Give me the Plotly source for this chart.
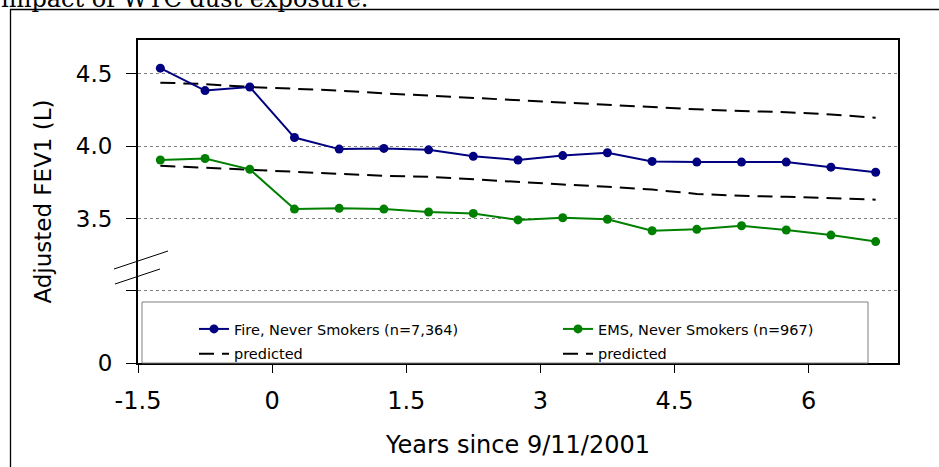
import plotly.graph_objects as go

# ---- data ----
years = [-1.25, -0.75, -0.25, 0.25, 0.75, 1.25, 1.75, 2.25, 2.75,
         3.25, 3.75, 4.25, 4.75, 5.25, 5.75, 6.25, 6.75]
fire_never = [4.54, 4.385, 4.41, 4.06, 3.98, 3.985, 3.975, 3.93, 3.905,
              3.935, 3.955, 3.895, 3.89, 3.89, 3.89, 3.855, 3.82]
fire_pred = [4.44, 4.43, 4.41, 4.40, 4.385, 4.366, 4.35, 4.33, 4.315,
             4.30, 4.285, 4.27, 4.255, 4.244, 4.235, 4.22, 4.197]
ems_never = [3.905, 3.915, 3.84, 3.565, 3.57, 3.565, 3.545, 3.535, 3.49,
             3.505, 3.495, 3.415, 3.425, 3.45, 3.42, 3.385, 3.34]
ems_pred = [3.865, 3.85, 3.835, 3.82, 3.805, 3.795, 3.789, 3.77, 3.75,
            3.735, 3.72, 3.70, 3.67, 3.657, 3.65, 3.64, 3.63]

x_tickvals = [-1.5, 0, 1.5, 3, 4.5, 6]
x_ticktext = ["-1.5", "0", "1.5", "3", "4.5", "6"]
y_tickvals = [2.5, 3.0, 3.5, 4.0, 4.5]
y_ticktext = ["0", "", "3.5", "4.0", "4.5"]

fire_name = "Fire, Never Smokers (n=7,364)"
ems_name = "EMS, Never Smokers (n=967)"
pred_name = "predicted"
x_title = "Years since 9/11/2001"
y_title = "Adjusted FEV1 (L)"
top_text = "impact of WTC dust exposure."

# ---- geometry helpers (pixel -> paper) ----
W, H = 939, 467
ML, MR, MT, MB = 138, 41, 40, 104
PW, PH = W - ML - MR, H - MT - MB


def px(x):
    return (x - ML) / PW


def py(y):
    return (H - MB - y) / PH


SANS = "DejaVu Sans"
BLUE = "#000080"
GREEN = "#008000"
DASH = "15px,8px"

fig = go.Figure()
fig.add_trace(go.Scatter(x=years, y=fire_pred, mode="lines", name=pred_name,
                         line=dict(color="black", width=2, dash=DASH),
                         legend="legend", legendrank=2, legendgroup="fp"))
fig.add_trace(go.Scatter(x=years, y=ems_pred, mode="lines", name=pred_name,
                         line=dict(color="black", width=2, dash=DASH),
                         legend="legend2", legendrank=2, legendgroup="ep"))
fig.add_trace(go.Scatter(x=years, y=fire_never, mode="lines+markers", name=fire_name,
                         line=dict(color=BLUE, width=2),
                         marker=dict(color=BLUE, size=9),
                         legend="legend", legendrank=1, legendgroup="f"))
fig.add_trace(go.Scatter(x=years, y=ems_never, mode="lines+markers", name=ems_name,
                         line=dict(color=GREEN, width=2),
                         marker=dict(color=GREEN, size=9),
                         legend="legend2", legendrank=1, legendgroup="e"))

shapes = [
    # legend frame
    dict(type="rect", xref="paper", yref="paper", x0=px(142), x1=px(868),
         y0=py(363), y1=py(302), line=dict(color="#808080", width=1),
         fillcolor="white", layer="above"),
    # axis break marks
    dict(type="line", xref="paper", yref="paper", x0=px(114), y0=py(269),
         x1=px(168), y1=py(251), line=dict(color="black", width=1), layer="above"),
    dict(type="line", xref="paper", yref="paper", x0=px(115), y0=py(284),
         x1=px(160), y1=py(269), line=dict(color="black", width=1), layer="above"),
    # page frame lines
    dict(type="line", xref="paper", yref="paper", x0=px(10.5), y0=py(9.5),
         x1=px(10.5), y1=py(470), line=dict(color="black", width=1.3), layer="above"),
    dict(type="line", xref="paper", yref="paper", x0=px(10), y0=py(9.5),
         x1=px(945), y1=py(9.5), line=dict(color="black", width=1.3), layer="above"),
]

legend_common = dict(xanchor="left", yanchor="top", bgcolor="rgba(0,0,0,0)",
                     borderwidth=0, font=dict(family=SANS, size=14.5, color="black"),
                     traceorder="grouped", tracegroupgap=3)

fig.update_layout(
    width=W, height=H,
    margin=dict(l=ML, r=MR, t=MT, b=MB, autoexpand=False),
    paper_bgcolor="white", plot_bgcolor="white",
    font=dict(family=SANS, color="black"),
    shapes=shapes,
    annotations=[dict(text=top_text, xref="paper", yref="paper",
                      x=px(-1), y=py(15), xanchor="left", yanchor="bottom",
                      showarrow=False,
                      font=dict(family="DejaVu Serif", size=24, color="black"))],
    legend=dict(x=px(194), y=py(313), **legend_common),
    legend2=dict(x=px(558), y=py(313), **legend_common),
    xaxis=dict(range=[-1.5, 7.0], tickvals=x_tickvals, ticktext=x_ticktext,
               showgrid=False, zeroline=False, showline=True, mirror=True,
               linecolor="black", linewidth=2, ticks="outside", ticklen=8,
               tickcolor="black", tickwidth=1, ticklabelstandoff=7,
               tickfont=dict(family=SANS, size=24, color="black"),
               title=dict(text=x_title, font=dict(family=SANS, size=24, color="black"),
                          standoff=22),
               automargin=False),
    yaxis=dict(range=[2.5, 4.735], tickvals=y_tickvals, ticktext=y_ticktext,
               showgrid=True, gridcolor="#808080", gridwidth=1, griddash="3px,3px",
               zeroline=False, showline=True, mirror=True,
               linecolor="black", linewidth=2, ticks="outside", ticklen=10,
               tickcolor="black", tickwidth=1, ticklabelstandoff=9,
               tickfont=dict(family=SANS, size=23, color="black"),
               title=dict(text=y_title, font=dict(family=SANS, size=23, color="black"),
                          standoff=18),
               automargin=False),
)

fig.write_html("out.html", config={"displayModeBar": False},
               post_script="document.body.style.margin='0';document.body.style.padding='0';")
